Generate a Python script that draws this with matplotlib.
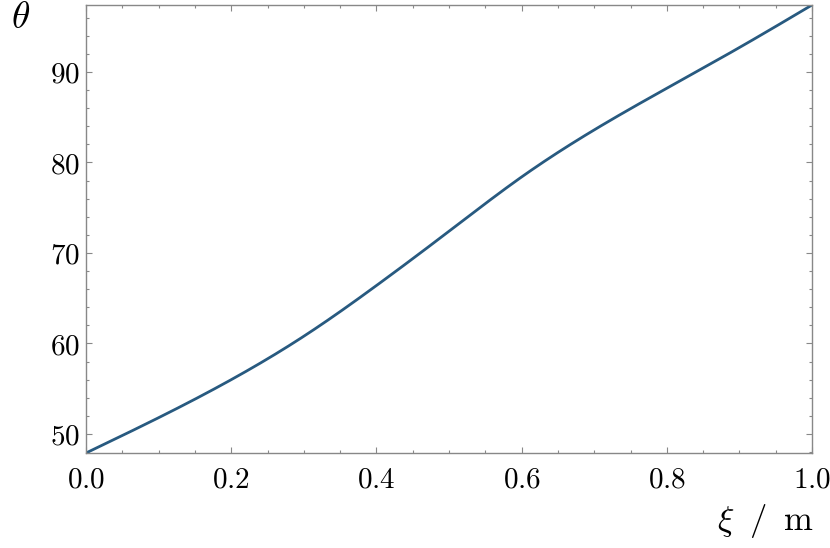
import matplotlib
matplotlib.use("Agg")
import matplotlib.pyplot as plt
from matplotlib.ticker import MultipleLocator, FuncFormatter
import numpy as np

plt.rcParams['mathtext.fontset'] = 'cm'
plt.rcParams['font.family'] = ['DejaVu Serif']

xi = [0.0, 0.1, 0.2, 0.3, 0.4, 0.5, 0.6, 0.7, 0.8, 0.9, 1.0]
theta = [47.9, 51.8, 56.0, 60.8, 66.4, 72.4, 78.4, 83.6, 88.2, 92.7, 97.4]

xlim = (0.0, 1.0)
ylim = (47.9, 97.4)

fig = plt.figure(figsize=(8.3, 5.48), dpi=100)
ax = fig.add_axes([86/830, 1-453/548, (812-86)/830, (453-5)/548])

# natural cubic spline through the read points (display smoothing only)
xa = np.array(xi); ya = np.array(theta)
n = len(xa)
h = np.diff(xa)
A = np.zeros((n, n)); b = np.zeros(n)
A[0, 0] = 1; A[-1, -1] = 1
for i in range(1, n-1):
    A[i, i-1] = h[i-1]; A[i, i] = 2*(h[i-1]+h[i]); A[i, i+1] = h[i]
    b[i] = 6*((ya[i+1]-ya[i])/h[i] - (ya[i]-ya[i-1])/h[i-1])
M = np.linalg.solve(A, b)
xs = np.linspace(0, 1, 500)
idx = np.clip(np.searchsorted(xa, xs) - 1, 0, n-2)
x0 = xa[idx]; x1 = xa[idx+1]; hh = h[idx]
ys = (M[idx]*(x1-xs)**3/(6*hh) + M[idx+1]*(xs-x0)**3/(6*hh)
      + (ya[idx]/hh - M[idx]*hh/6)*(x1-xs) + (ya[idx+1]/hh - M[idx+1]*hh/6)*(xs-x0))

ax.plot(xs, ys, color='#285a80', lw=2.0, solid_capstyle='round')
ax.set_xlim(*xlim)
ax.set_ylim(*ylim)

ax.xaxis.set_major_locator(MultipleLocator(0.2))
ax.xaxis.set_minor_locator(MultipleLocator(0.05))
ax.yaxis.set_major_locator(MultipleLocator(10))
ax.yaxis.set_minor_locator(MultipleLocator(2))
ax.xaxis.set_major_formatter(FuncFormatter(lambda v, p: r'$%.1f$' % v))
ax.yaxis.set_major_formatter(FuncFormatter(lambda v, p: r'$%d$' % round(v)))

for s in ax.spines.values():
    s.set_color('#888888')
    s.set_linewidth(1.0)
ax.tick_params(which='both', direction='in', top=True, right=True, color='#888888',
               labelsize=21, width=0.8)
ax.tick_params(which='major', length=4.5)
ax.tick_params(which='minor', length=2.5)
ax.tick_params(axis='x', which='major', pad=9)
ax.tick_params(axis='y', which='major', pad=4)

fig.text(21/830, 1-18/548, r'$\theta$', fontsize=27, ha='center', va='center')
fig.text(765/830, 1-521/548, r'$\xi\;\;/\;\;\mathrm{m}$', fontsize=25, ha='center', va='center')

fig.savefig('out.png', dpi=100)
